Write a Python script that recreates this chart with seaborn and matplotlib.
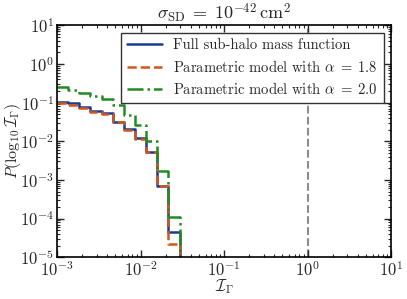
import matplotlib
matplotlib.use('Agg')
import matplotlib.pyplot as plt
from matplotlib.ticker import LogLocator
import numpy as np
import pandas as pd
import seaborn as sns

# log-spaced bin edges (30 bins over 1e-3 .. 1e1), only first 11 populated
bin_edges = np.logspace(-3, 1, 31)[:12]

p_full = [0.106, 0.096, 0.0785, 0.062, 0.053, 0.032, 0.0205, 0.012, 0.0054, 0.0007, 4.6e-5]
p_alpha18 = [0.096, 0.087, 0.074, 0.058, 0.050, 0.031, 0.020, 0.0115, 0.0052, 0.00068, 2.2e-5]
p_alpha20 = [0.258, 0.212, 0.175, 0.148, 0.122, 0.087, 0.048, 0.026, 0.0104, 0.0017, 1.12e-4]

labels = ['Full sub-halo mass function',
          r'Parametric model with $\alpha\;=\;1.8$',
          r'Parametric model with $\alpha\;=\;2.0$']
colors = ['#1a3a94', '#d2561c', '#238b23']
styles = ['-', '--', '-.']

sns.set_style('ticks')
plt.rcParams.update({
    'font.family': 'serif',
    'font.serif': ['cmr10'],
    'mathtext.fontset': 'cm',
    'axes.formatter.use_mathtext': True,
    'font.size': 12,
    'axes.unicode_minus': False,
})

fig = plt.figure(figsize=(4.07, 2.99), dpi=100)
ax = fig.add_axes([0.140, 0.140, 0.821, 0.775])

for vals, lab, col, ls in zip([p_full, p_alpha18, p_alpha20], labels, colors, styles):
    ys = list(vals) + [vals[-1], 1e-7]
    xs = list(bin_edges) + [bin_edges[-1]]
    df = pd.DataFrame({'x': xs, 'y': ys})
    sns.lineplot(data=df, x='x', y='y', ax=ax, estimator=None, sort=False,
                 drawstyle='steps-post', color=col, linestyle=ls, lw=1.8, label=lab)

ax.axvline(1.0, color='#8c8c8c', ls='--', lw=1.5, zorder=0)

ax.set_xscale('log')
ax.set_yscale('log')
ax.set_xlim(1e-3, 1e1)
ax.set_ylim(1e-5, 1e1)
for axis in (ax.xaxis, ax.yaxis):
    axis.set_major_locator(LogLocator(base=10, numticks=20))
    axis.set_minor_locator(LogLocator(base=10, subs=np.arange(2, 10), numticks=20))
ax.set_xlabel(r'$\mathcal{I}_\Gamma$', labelpad=-1)
ax.set_ylabel(r'$P(\log_{10}\mathcal{I}_\Gamma)$', fontsize=11.5)
ax.yaxis.set_label_coords(-0.101, 0.5)
ax.set_title(r'$\sigma_{\rm SD}\;=\;10^{-42}\,{\rm cm}^2$', fontsize=13, pad=4)

ax.tick_params(which='both', direction='in', top=True, right=True, pad=2)
ax.tick_params(which='major', length=5, width=1)
ax.tick_params(which='minor', length=2.5, width=0.8)
for s in ax.spines.values():
    s.set_linewidth(1.2)
    s.set_color('black')

leg = ax.legend(loc='upper right', fancybox=False, framealpha=1, edgecolor='#333333',
                fontsize=10.5, handlelength=2.4, borderpad=0.4, labelspacing=0.45)
leg.get_frame().set_linewidth(1.0)

fig.savefig('out.png', dpi=100)
